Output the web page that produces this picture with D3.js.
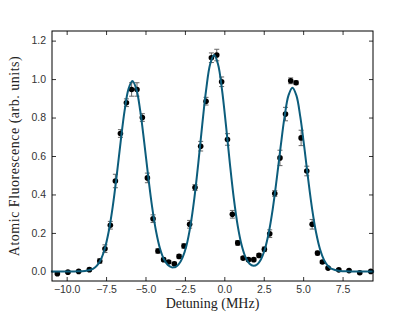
<!DOCTYPE html>
<html>
<head>
<meta charset="utf-8">
<script src="https://cdn.jsdelivr.net/npm/d3@7"></script>
<style>
  body { margin: 0; background: #fff; }
  svg { display: block; }
</style>
</head>
<body>
<div id="chart"></div>
<script>
// measured points: detuning (MHz), fluorescence, error
const detuning = [-10.59, -9.92, -9.24, -8.56, -7.90, -7.57, -7.23, -6.91, -6.59, -6.21, -5.88, -5.54, -5.20, -4.88, -4.52, -4.21, -3.85, -3.53, -3.17, -2.87, -2.56, -2.20, -1.86, -1.50, -1.16, -0.82, -0.48, -0.17, 0.20, 0.51, 0.85, 1.19, 1.53, 1.87, 2.20, 2.54, 2.88, 3.20, 3.53, 3.88, 4.21, 4.55, 4.87, 5.23, 5.57, 5.91, 6.22, 6.58, 7.26, 7.91, 8.59, 9.29];
const fluorescence = [-0.012, -0.004, 0.000, 0.009, 0.054, 0.118, 0.240, 0.470, 0.717, 0.877, 0.946, 0.946, 0.800, 0.486, 0.274, 0.106, 0.061, 0.049, 0.040, 0.078, 0.132, 0.245, 0.436, 0.651, 0.885, 1.111, 1.125, 0.986, 0.686, 0.297, 0.148, 0.069, 0.061, 0.061, 0.083, 0.115, 0.196, 0.405, 0.590, 0.818, 0.991, 0.981, 0.694, 0.522, 0.245, 0.095, 0.049, 0.017, 0.008, 0.004, -0.007, 0.000];
const errors = [0.005, 0.005, 0.005, 0.008, 0.012, 0.02, 0.02, 0.035, 0.02, 0.02, 0.035, 0.035, 0.02, 0.025, 0.02, 0.012, 0.008, 0.008, 0.008, 0.01, 0.012, 0.02, 0.015, 0.025, 0.02, 0.025, 0.03, 0.025, 0.03, 0.02, 0.012, 0.008, 0.008, 0.008, 0.01, 0.012, 0.02, 0.015, 0.04, 0.035, 0.015, 0.01, 0.04, 0.025, 0.025, 0.01, 0.008, 0.005, 0.005, 0.005, 0.005, 0.005];

// fit curve
const fitX = [-11, -9.5, -8.83, -8.33, -8.08, -7.83, -7.58, -7.33, -7.08, -6.83, -6.58, -6.33, -6.08, -5.83, -5.58, -5.33, -5.08, -4.83, -4.58, -4.33, -4.08, -3.83, -3.58, -3.33, -3.2, -3.08, -2.9, -2.65, -2.4, -2.15, -1.9, -1.65, -1.4, -1.15, -0.9, -0.65, -0.4, -0.15, 0.1, 0.35, 0.6, 0.85, 1.1, 1.35, 1.6, 1.85, 2.1, 2.32, 2.57, 2.82, 3.07, 3.32, 3.57, 3.82, 4.07, 4.32, 4.57, 4.82, 5.07, 5.32, 5.57, 5.82, 6.07, 6.32, 6.57, 6.82, 7.32, 8.0, 9.5];
const fitY = [0, 0, 0.002, 0.013, 0.030, 0.062, 0.119, 0.209, 0.336, 0.495, 0.671, 0.833, 0.948, 0.990, 0.948, 0.833, 0.671, 0.495, 0.336, 0.209, 0.119, 0.063, 0.033, 0.021, 0.021, 0.024, 0.036, 0.072, 0.135, 0.237, 0.381, 0.563, 0.763, 0.946, 1.077, 1.125, 1.077, 0.946, 0.763, 0.563, 0.381, 0.237, 0.136, 0.073, 0.040, 0.029, 0.0375, 0.062, 0.115, 0.202, 0.324, 0.478, 0.647, 0.803, 0.915, 0.955, 0.915, 0.803, 0.647, 0.478, 0.324, 0.202, 0.115, 0.060, 0.029, 0.0126, 0.002, 0, 0];

const xTicks = [-10, -7.5, -5, -2.5, 0, 2.5, 5, 7.5];
const yTicks = [0, 0.2, 0.4, 0.6, 0.8, 1.0, 1.2];

const width = 415, height = 312;
const plotLeft = 52, plotRight = 373, plotTop = 31, plotBottom = 281;

const svg = d3.select('#chart').append('svg')
    .attr('width', width)
    .attr('height', height);

const x = d3.scaleLinear().domain([-10.93, 9.43]).range([plotLeft, plotRight]);
const y = d3.scaleLinear().domain([-0.05, 1.25]).range([plotBottom, plotTop]);

const fmtX = d => d3.format('.1f')(d).replace('-', '\u2212\u2009');
const fmtY = d3.format('.1f');

// axes, ticks pointing inward on all sides
const tickStyle = g => {
    g.select('.domain').remove();
    g.selectAll('.tick line').attr('stroke', '#000').attr('stroke-width', 0.8);
    g.selectAll('.tick text')
        .attr('font-family', 'Liberation Sans, Arial, sans-serif')
        .attr('font-size', '10.5px')
        .attr('fill', '#333');
};

svg.append('g')
    .attr('transform', `translate(0,${plotBottom})`)
    .call(d3.axisBottom(x).tickValues(xTicks).tickFormat(fmtX).tickSizeInner(-4).tickPadding(5))
    .call(tickStyle);
svg.append('g')
    .attr('transform', `translate(0,${plotTop})`)
    .call(d3.axisTop(x).tickValues(xTicks).tickFormat('').tickSizeInner(-4))
    .call(tickStyle);
svg.append('g')
    .attr('transform', `translate(${plotLeft},0)`)
    .call(d3.axisLeft(y).tickValues(yTicks).tickFormat(fmtY).tickSizeInner(-4).tickPadding(6))
    .call(tickStyle);
svg.append('g')
    .attr('transform', `translate(${plotRight},0)`)
    .call(d3.axisRight(y).tickValues(yTicks).tickFormat('').tickSizeInner(-4))
    .call(tickStyle);

// error bars
const pts = detuning.map((d, i) => ({x: d, y: fluorescence[i], e: errors[i]}));
const eb = svg.append('g').attr('stroke', '#666').attr('stroke-width', 1);
pts.forEach(p => {
    eb.append('line')
        .attr('x1', x(p.x)).attr('x2', x(p.x))
        .attr('y1', y(p.y - p.e)).attr('y2', y(p.y + p.e));
    [p.y - p.e, p.y + p.e].forEach(v => {
        eb.append('line')
            .attr('x1', x(p.x) - 2.5).attr('x2', x(p.x) + 2.5)
            .attr('y1', y(v)).attr('y2', y(v));
    });
});

// data points
svg.append('g').selectAll('circle')
    .data(pts)
    .enter()
    .append('circle')
    .attr('cx', d => x(d.x))
    .attr('cy', d => y(d.y))
    .attr('r', 2.8)
    .attr('fill', '#000');

// fit curve
const line = d3.line()
    .x(d => x(d[0]))
    .y(d => y(d[1]))
    .curve(d3.curveCatmullRom.alpha(0.5));
svg.append('path')
    .datum(fitX.map((d, i) => [d, fitY[i]]))
    .attr('d', line)
    .attr('fill', 'none')
    .attr('stroke', '#0c5d7c')
    .attr('stroke-width', 2);

// frame
svg.append('rect')
    .attr('x', plotLeft).attr('y', plotTop)
    .attr('width', plotRight - plotLeft).attr('height', plotBottom - plotTop)
    .attr('fill', 'none')
    .attr('stroke', '#000')
    .attr('stroke-width', 1);

// axis labels
svg.append('text')
    .attr('x', (plotLeft + plotRight) / 2)
    .attr('y', 308)
    .attr('text-anchor', 'middle')
    .attr('font-family', 'Liberation Serif, DejaVu Serif, serif')
    .attr('font-size', '14px')
    .attr('fill', '#222')
    .text('Detuning (MHz)');

svg.append('text')
    .attr('transform', `translate(19,${(plotTop + plotBottom) / 2}) rotate(-90)`)
    .attr('text-anchor', 'middle')
    .attr('font-family', 'Liberation Serif, DejaVu Serif, serif')
    .attr('font-size', '14px')
    .attr('letter-spacing', '0.5px')
    .attr('fill', '#222')
    .text('Atomic Fluorescence (arb.  units)');
</script>
</body>
</html>
